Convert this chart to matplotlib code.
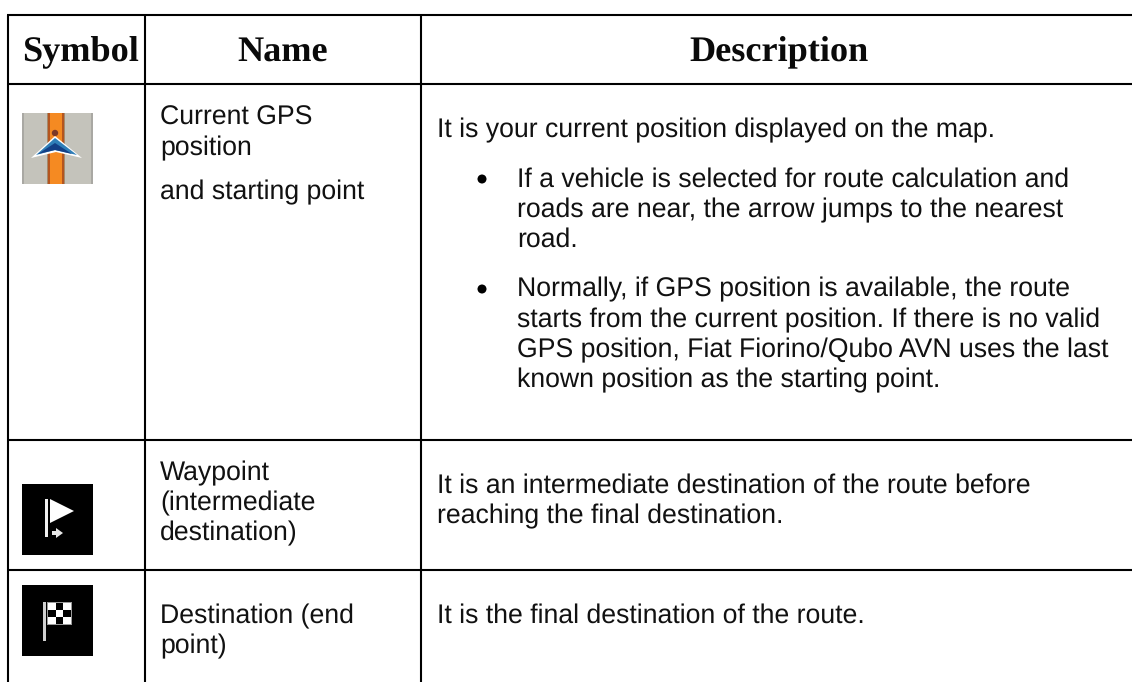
import matplotlib
import matplotlib.pyplot as plt
from matplotlib.patches import Polygon, Rectangle, Circle

matplotlib.use('Agg')
plt.rcParams['text.hinting'] = 'none'

headers = ['Symbol', 'Name', 'Description']
name_lines = ['Current GPS', 'position', 'and starting point',
              'Waypoint', '(intermediate', 'destination)',
              'Destination (end', 'point)']
description_lines = ['It is your current position displayed on the map.',
                     'It is an intermediate destination of the route before',
                     'reaching the final destination.',
                     'It is the final destination of the route.']
bullet_lines = ['If a vehicle is selected for route calculation and',
                'roads are near, the arrow jumps to the nearest',
                'road.',
                'Normally, if GPS position is available, the route',
                'starts from the current position. If there is no valid',
                'GPS position, Fiat Fiorino/Qubo AVN uses the last',
                'known position as the starting point.']

header_x = [22, 237, 689]
name_y = [125, 155, 199, 480, 510, 540, 623, 653]
description_y = [137, 493, 523, 623]
bullet_y = [187, 217, 247, 296, 327, 357, 387]
bullet_mark_y = [179, 289]
row_y = [15, 84, 440, 569.5]
col_x = [7.5, 145, 421]

SANS = 'Liberation Sans'
SERIF = 'Liberation Serif'
TEXT_SIZE = 19.15

fig = plt.figure(figsize=(11.32, 6.82), dpi=100)
ax = fig.add_axes([0, 0, 1, 1])
ax.set_xlim(0, 1132)
ax.set_ylim(682, 0)
ax.axis('off')

# table rules
for y in row_y:
    ax.plot([col_x[0] - 1, 1132], [y, y], color='black', lw=1.5, solid_capstyle='butt')
for x in col_x:
    ax.plot([x, x], [row_y[0], 682], color='black', lw=1.5, solid_capstyle='butt')

# header and cell text
for x, label in zip(header_x, headers):
    ax.text(x, 61, label, family=SERIF, weight='bold', fontsize=26.1, color='#0a0a0a', va='baseline')
for y, label in zip(name_y, name_lines):
    ax.text(160, y, label, family=SANS, fontsize=TEXT_SIZE, color='#111111', va='baseline')
for y, label in zip(description_y, description_lines):
    ax.text(437, y, label, family=SANS, fontsize=TEXT_SIZE, color='#111111', va='baseline')
for y, label in zip(bullet_y, bullet_lines):
    ax.text(517, y, label, family=SANS, fontsize=TEXT_SIZE, color='#111111', va='baseline')
for y in bullet_mark_y:
    ax.add_patch(Circle((482, y), 4.5, color='black', lw=0))

# GPS arrow icon
ax.add_patch(Rectangle((22, 113), 71, 71, color='#c4c3bb', lw=0))
ax.add_patch(Rectangle((22, 113), 2, 71, color='#a9a8a3', lw=0))
ax.add_patch(Rectangle((91, 113), 2, 71, color='#a9a8a3', lw=0))
ax.add_patch(Rectangle((47, 113), 18, 71, color='#a58a6c', lw=0))
ax.add_patch(Rectangle((48, 113), 16, 71, color='#b4551f', lw=0))
ax.add_patch(Rectangle((50, 113), 12, 71, color='#f58a22', lw=0))
ax.add_patch(Circle((55, 133), 3.2, color='#7d3a26', lw=0))
ax.add_patch(Polygon([(55, 136), (82, 158), (56, 152), (31, 158)], color='white', lw=0))
ax.add_patch(Polygon([(55, 138), (77, 155), (55, 150), (36, 155)], color='#2f7fb8', lw=0))
ax.add_patch(Polygon([(55, 143), (72, 154), (55, 150), (38, 154)], color='#123f86', lw=0))

# waypoint flag icon
ax.add_patch(Rectangle((22, 484), 71, 71, color='black', lw=0))
ax.add_patch(Rectangle((45, 499), 3, 38, color='#f2f2f2', lw=0))
ax.add_patch(Polygon([(50, 499), (74, 511), (50, 523)], color='white', lw=0))
ax.add_patch(Polygon([(52, 531), (56, 531), (56, 528), (63, 533), (56, 538), (56, 535), (52, 535)],
                     color='#e8e8e8', lw=0))

# destination flag icon
ax.add_patch(Rectangle((22, 585), 71, 71, color='black', lw=0))
ax.add_patch(Rectangle((43, 602), 2.5, 39, color='#d0d0d0', lw=0))
ax.add_patch(Rectangle((47, 602), 25, 23, color='#9a9a9a', lw=0))
for row in range(3):
    for col in range(3):
        shade = 'white' if (row + col) % 2 == 0 else 'black'
        ax.add_patch(Rectangle((48 + col * 7.7, 603 + row * 7), 7.7, 7, color=shade, lw=0))

plt.savefig('out.png', dpi=100)
